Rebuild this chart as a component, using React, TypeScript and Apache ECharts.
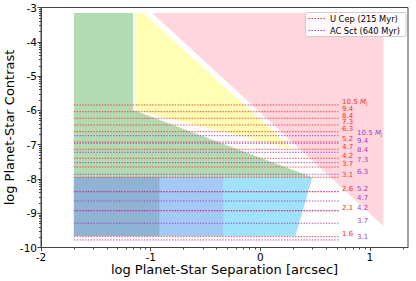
import React, { useEffect, useRef } from "react";
import * as echarts from "echarts";

// Axis extents (log units)
const X_MIN = -2;
const X_MAX = 1.347;
const Y_MIN = -10;
const Y_MAX = -3;
const X_TICKS = [-2, -1, 0, 1];
const Y_TICKS = [-10, -9, -8, -7, -6, -5, -4, -3];

// Sensitivity regions (log separation, log contrast)
const PINK_REGION = [[-0.986, -3.16], [1.123, -3.16], [1.123, -9.372]];
const YELLOW_REGION = [[-1.14, -3.16], [-1.068, -3.16], [0.292, -7.128], [-1.14, -5.99]];
const GREEN_REGION = [[-1.7, -3.16], [-1.16, -3.16], [-1.16, -5.99], [0.475, -7.95], [-1.7, -7.95]];
const BLUE_REGION = [[-1.7, -7.95], [0.475, -7.95], [0.32, -9.664], [-1.7, -9.664]];
const BLUE_MID_REGION = [[-1.7, -7.95], [-0.34, -7.95], [-0.34, -9.664], [-1.7, -9.664]];
const BLUE_DARK_REGION = [[-1.7, -7.95], [-0.92, -7.95], [-0.92, -9.664], [-1.7, -9.664]];

// Planet mass lines
const LINE_X_START = -1.7;
const LINE_X_END = 0.715;
const U_CEP_LABEL_X = 0.746;
const AC_SCT_LABEL_X = 0.883;
const U_CEP_MASS = ["10.5", "9.4", "8.4", "7.3", "6.3", "5.2", "4.7", "4.2", "3.7", "3.1", "2.6", "2.1", "1.6"];
const U_CEP_CONTRAST = [-5.843, -6.039, -6.231, -6.427, -6.622, -6.922, -7.135, -7.398, -7.652, -7.952, -8.372, -8.926, -9.684];
const AC_SCT_MASS = ["10.5", "9.4", "8.4", "7.3", "6.3", "5.2", "4.7", "4.2", "3.7", "3.1"];
const AC_SCT_CONTRAST = [-6.739, -6.96, -7.223, -7.526, -7.864, -8.372, -8.643, -8.926, -9.293, -9.78];

const FONT = "DejaVu Sans, sans-serif";
const RED = "#ff2a2a";
const PURPLE = "#a43cbc";

const REGIONS = [PINK_REGION, YELLOW_REGION, GREEN_REGION, BLUE_REGION, BLUE_MID_REGION, BLUE_DARK_REGION];
const REGION_FILLS = ["#ffd6dd", "#ffffb3", "#b3dbb3", "#9fe2fa", "#a5c9f6", "#90b3d3"];

function logMinor(lo: number, hi: number): number[] {
  const out: number[] = [];
  for (let d = Math.floor(lo) - 1; d <= Math.ceil(hi); d++) {
    for (let k = 2; k <= 9; k++) {
      const v = d + Math.log10(k);
      if (v > lo && v < hi) out.push(+v.toFixed(4));
    }
  }
  return out;
}
const X_MINOR = logMinor(X_MIN, X_MAX);
const Y_MINOR = logMinor(Y_MIN, Y_MAX);

function dotPath(): string {
  let p = "path://";
  for (let i = 0; i < 6; i++) {
    const x = i * 3;
    p += `M${x} 0h1.5v1h-1.5z `;
  }
  return p.trim();
}

function massSeries(name: string, color: string, mass: string[], contrast: number[], labelX: number) {
  return {
    type: "custom",
    name,
    silent: true,
    itemStyle: { color },
    data: contrast.map((c) => [LINE_X_START, c, LINE_X_END, labelX]),
    renderItem: (params: any, api: any) => {
      const i = params.dataIndex;
      const y = api.value(1);
      const a = api.coord([api.value(0), y]);
      const b = api.coord([api.value(2), y]);
      const t = api.coord([api.value(3), y]);
      const txt = i === 0 ? `${mass[i]} {m|M}{j|J}` : mass[i];
      return {
        type: "group",
        children: [
          {
            type: "line",
            shape: { x1: a[0], y1: a[1], x2: b[0], y2: b[1] },
            style: { stroke: color, lineWidth: 1, lineDash: [1.4, 1.4], opacity: 0.9 },
          },
          {
            type: "text",
            x: t[0],
            y: t[1] - 2.5,
            style: {
              text: txt,
              fill: color,
              fontSize: 7,
              lineHeight: 5.5,
              fontFamily: FONT,
              verticalAlign: "middle",
              align: "left",
              rich: {
                m: { fontStyle: "italic", fontSize: 7, lineHeight: 5.5, fill: color, fontFamily: FONT },
                j: { fontSize: 4.6, lineHeight: 5.5, fill: color, fontFamily: FONT, padding: [3, 0, 0, 0] },
              },
            },
          },
        ],
      };
    },
  };
}

export default function App() {
  const ref = useRef<HTMLDivElement>(null);
  useEffect(() => {
    if (!ref.current) return;
    const chart = echarts.init(ref.current, null, { renderer: "svg" });
    const axisColor = "#444";
    chart.setOption({
      animation: false,
      backgroundColor: "#fff",
      textStyle: { fontFamily: FONT },
      grid: {
        left: 41,
        right: 8,
        top: 7.5,
        bottom: 33.5,
        containLabel: false,
        outerBoundsMode: "none",
        show: true,
        borderColor: axisColor,
        borderWidth: 1,
        backgroundColor: "transparent",
      },
      legend: {
        right: 10,
        top: 12.5,
        orient: "vertical",
        itemWidth: 16.5,
        itemHeight: 1.2,
        itemGap: 4,
        padding: [2, 6, 2, 3],
        backgroundColor: "rgba(255,255,255,0.9)",
        borderColor: "#cccccc",
        borderWidth: 1,
        borderRadius: 2,
        textStyle: { fontSize: 8.3, color: "#000", fontFamily: FONT },
        selectedMode: false,
        data: [
          { name: "U Cep (215 Myr)", icon: dotPath(), itemStyle: { color: RED } },
          { name: "AC Sct (640 Myr)", icon: dotPath(), itemStyle: { color: PURPLE } },
        ],
      },
      xAxis: [
        {
          type: "value",
          min: X_MIN,
          max: X_MAX,
          interval: 1,
          position: "bottom",
          axisLine: { show: true, onZero: false, lineStyle: { color: axisColor, width: 1 } },
          axisTick: { show: true, customValues: X_TICKS, length: 3.5, lineStyle: { color: axisColor } },
          axisLabel: { customValues: X_TICKS, fontSize: 10.5, lineHeight: 10, color: "#000", margin: 4, fontFamily: FONT },
          splitLine: { show: false },
          name: "log Planet-Star Separation [arcsec]",
          nameLocation: "middle",
          nameMoveOverlap: false,
          nameGap: 14.5,
          nameTextStyle: { fontSize: 13, lineHeight: 14, color: "#000", fontFamily: FONT },
        },
        {
          type: "value",
          min: X_MIN,
          max: X_MAX,
          interval: 1,
          position: "bottom",
          axisLine: { show: false, onZero: false },
          axisTick: { show: true, customValues: X_MINOR, length: 2, lineStyle: { color: axisColor } },
          axisLabel: { show: false },
          splitLine: { show: false },
        },
      ],
      yAxis: [
        {
          type: "value",
          min: Y_MIN,
          max: Y_MAX,
          interval: 1,
          position: "left",
          axisLine: { show: true, onZero: false, lineStyle: { color: axisColor, width: 1 } },
          axisTick: { show: true, customValues: Y_TICKS, length: 3.5, lineStyle: { color: axisColor } },
          axisLabel: { customValues: Y_TICKS, fontSize: 10.5, color: "#000", margin: 4, fontFamily: FONT },
          splitLine: { show: false },
          name: "log Planet-Star Contrast",
          nameLocation: "middle",
          nameRotate: 90,
          nameMoveOverlap: false,
          nameGap: 25,
          nameTextStyle: { fontSize: 13, color: "#000", fontFamily: FONT },
        },
        {
          type: "value",
          min: Y_MIN,
          max: Y_MAX,
          interval: 1,
          position: "left",
          axisLine: { show: false, onZero: false },
          axisTick: { show: true, customValues: Y_MINOR, length: 2, lineStyle: { color: axisColor } },
          axisLabel: { show: false },
          splitLine: { show: false },
        },
      ],
      series: [
        {
          type: "custom",
          name: "regions",
          silent: true,
          data: REGIONS.map((_, i) => [i, -5]),
          renderItem: (params: any, api: any) => {
            const idx = params.dataIndex;
            const pts = REGIONS[idx].map((p) => api.coord(p));
            return { type: "polygon", shape: { points: pts }, style: { fill: REGION_FILLS[idx], stroke: "none" } };
          },
        },
        massSeries("U Cep (215 Myr)", RED, U_CEP_MASS, U_CEP_CONTRAST, U_CEP_LABEL_X),
        massSeries("AC Sct (640 Myr)", PURPLE, AC_SCT_MASS, AC_SCT_CONTRAST, AC_SCT_LABEL_X),
      ],
    });
    return () => chart.dispose();
  }, []);
  return <div ref={ref} style={{ position: "fixed", left: 0, top: 0, width: 416, height: 281 }} />;
}
